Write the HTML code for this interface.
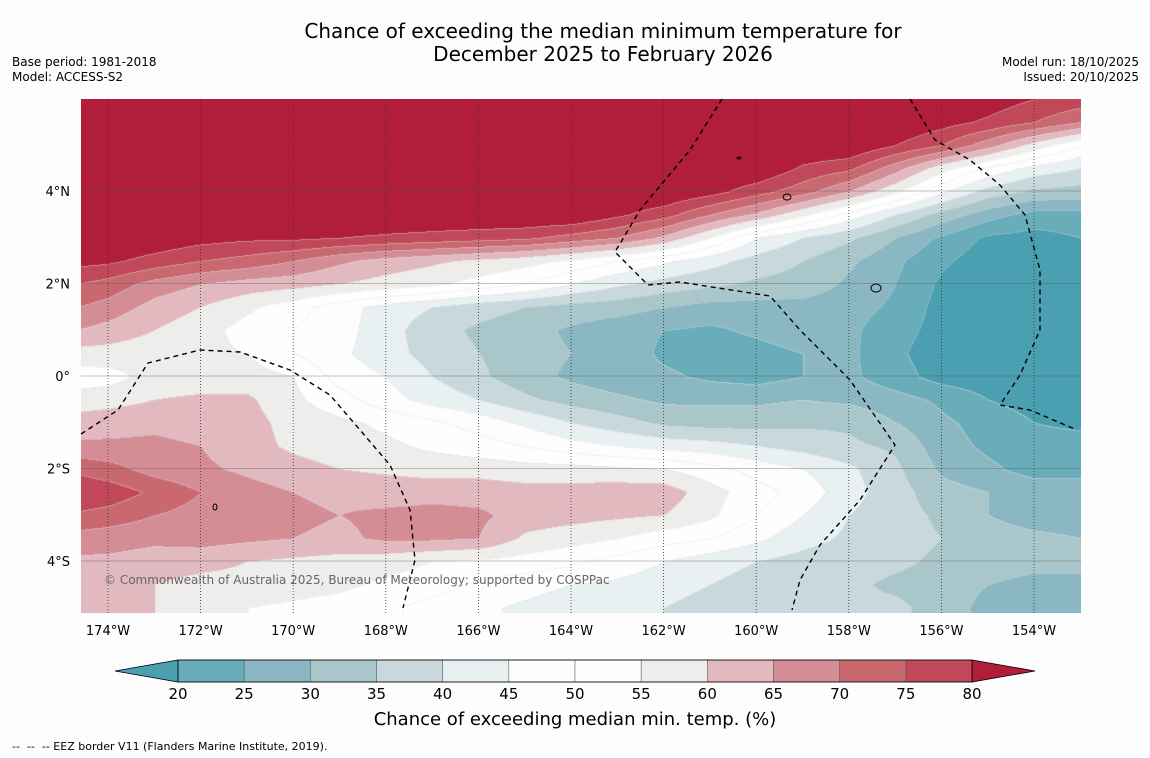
<!DOCTYPE html>
<html><head><meta charset="utf-8">
<style>
body{margin:0;background:#fdfdfd;width:1150px;height:758px;overflow:hidden;font-family:"DejaVu Sans","Liberation Sans",sans-serif;position:relative}
.t{position:absolute;white-space:nowrap;color:#000}
</style></head><body>
<div class="t" style="left:0;width:1206px;text-align:center;top:20px;font-size:20px;line-height:23px">Chance of exceeding the median minimum temperature for<br>December 2025 to February 2026</div>
<div class="t" style="left:12px;top:55px;font-size:12px;line-height:15px">Base period: 1981-2018<br>Model: ACCESS-S2</div>
<div class="t" style="right:11px;top:55px;font-size:12px;line-height:15px;text-align:right">Model run: 18/10/2025<br>Issued: 20/10/2025</div>
<canvas id="map" width="1000" height="514" style="position:absolute;left:81px;top:99px"></canvas>
<svg id="ov" width="1150" height="758" style="position:absolute;left:0;top:0"></svg>
<div class="t" style="left:104px;top:573px;font-size:12px;color:#666">© Commonwealth of Australia 2025, Bureau of Meteorology; supported by COSPPac</div>
<div class="t" style="left:0;width:1150px;text-align:center;top:709px;font-size:18px">Chance of exceeding median min. temp. (%)</div>
<div class="t" style="left:12px;top:740px;font-size:11px">--&nbsp; --&nbsp; -- EEZ border V11 (Flanders Marine Institute, 2019).</div>
<script>
const lons=[-175,-174,-173,-172,-171,-170,-169,-168,-167,-166,-165,-164,-163,-162,-161,-160,-159,-158,-157,-156,-155,-154,-153];
const lats=[6,5.5,5,4.5,4,3.5,3,2.5,2,1.5,1,0.5,0,-0.5,-1,-1.5,-2,-2.5,-3,-3.5,-4,-4.5,-5];
const grid=[
[85,85,85,85,85,85,85,85,85,85,85,85,85,85,85,85,85,85,85,85,83,80,78],
[85,85,85,85,85,85,85,85,85,85,85,85,85,85,85,85,85,85,85,82,79,75,70],
[85,85,85,85,85,85,85,85,85,85,85,85,85,85,85,85,85,85,80,75,67,58,50],
[85,85,85,85,85,85,85,85,85,85,85,85,85,85,85,85,79,76,67,57,49,43,40],
[85,85,85,85,85,85,85,85,85,85,85,85,85,85,82,77,72,65,56,46,38,34,33],
[85,85,85,85,85,85,85,85,85,85,85,85,81,77,70,64,56,48,40,33,27,23,23],
[85,85,84,82,81,81,80,79,78,77,76,73,70,64,55,45,40,36,30,24,19,18,20],
[82,81,78,75,73,70,66,63,61,59,57,54,50,46,42,38,35,31,26,21,17,16,16],
[76,73,68,65,63,62,60,58,56,53,50,45,41,38,36,34,33,29,25,19,16,16,16],
[71,68,63,60,56,52,47,43,40,37,35,33,32,30,28,28,28,27,24,18,17,16,16],
[66,63,60,57,53,50,47,42,37,34,32,29,27,25,24,26,28,26,22,18,17,16,16],
[58,58,57,56,55,50,46,42,38,35,32,30,28,24,22,23,25,26,21,17,16,16,16],
[52,53,57,57,57,55,48,45,40,36,32,29,27,26,24,23,25,26,22,18,17,17,17],
[57,58,60,61,61,56,52,47,43,40,36,33,31,29,29,29,30,29,27,24,20,18,18],
[62,63,64,63,62,58,56,54,51,48,44,40,37,34,33,33,34,34,30,26,23,20,19],
[66,66,66,65,62,59,57,56,54,52,50,47,45,43,42,40,38,36,34,27,24,22,22],
[75,72,68,66,64,62,60,59,58,58,57,57,56,55,52,48,45,41,36,29,26,23,23],
[79,78,74,70,67,65,64,63,63,63,62,62,63,63,57,52,48,42,37,32,30,28,28],
[75,73,70,68,67,66,65,66,67,66,63,62,61,60,56,50,45,40,37,34,30,28,28],
[68,67,66,67,66,65,64,66,66,65,59,57,55,52,50,46,42,39,37,35,32,31,30],
[64,64,63,62,60,59,58,57,55,54,53,51,48,45,42,40,38,37,36,34,33,32,32],
[62,61,60,58,58,57,56,54,52,49,47,45,44,42,40,38,37,36,34,33,30,28,28],
[64,63,60,56,55,54,53,51,48,46,44,42,41,40,38,37,36,36,36,33,28,28,28]];
const levels=[20,25,30,35,40,45,50,55,60,65,70,75,80];
const colors=['#4a9fb0','#68adb9','#8bb7c3','#a9c6ca','#c8d8dc','#e8f0f1','#fdfdfd','#fefefe','#eeedeb','#e1b9be','#d48c95','#c9686f','#c04858','#b01e3a'];
const xOf=l=>108+(l+174)*46.3, yOf=p=>376-p*46.25;
function bin(v){let i=0;while(i<levels.length&&v>=levels[i])i++;return i;}
function hex(c){return[parseInt(c.slice(1,3),16),parseInt(c.slice(3,5),16),parseInt(c.slice(5,7),16)];}
const rgb=colors.map(hex);
const cv=document.getElementById('map'),ctx=cv.getContext('2d'),W=1000,H=514;
const img=ctx.createImageData(W,H),bins=new Int8Array(W*H);
const lonStep=lons[1]-lons[0],latStep=lats[0]-lats[1];
for(let py=0;py<H;py++){const lat=(376-(py+99))/46.25;let fi=(lats[0]-lat)/latStep;fi=Math.max(0,Math.min(lats.length-1.001,fi));const i=Math.floor(fi),ty=fi-i;
for(let px=0;px<W;px++){const lon=(px+81-108)/46.3-174;let fj=(lon-lons[0])/lonStep;fj=Math.max(0,Math.min(lons.length-1.001,fj));const j=Math.floor(fj),tx=fj-j;
const v=(grid[i][j]*(1-tx)+grid[i][j+1]*tx)*(1-ty)+(grid[i+1][j]*(1-tx)+grid[i+1][j+1]*tx)*ty;bins[py*W+px]=bin(v);}}
for(let py=0;py<H;py++)for(let px=0;px<W;px++){const k=py*W+px,b=bins[k];let c=rgb[b];
const edge=(px>0&&bins[k-1]!==b)||(py>0&&bins[k-W]!==b);
const o=k*4;if(edge){img.data[o]=c[0]*0.6+90;img.data[o+1]=c[1]*0.6+90;img.data[o+2]=c[2]*0.6+90;}else{img.data[o]=c[0];img.data[o+1]=c[1];img.data[o+2]=c[2];}img.data[o+3]=255;}
ctx.putImageData(img,0,0);
const NS='http://www.w3.org/2000/svg',ov=document.getElementById('ov');
const FF='DejaVu Sans,Liberation Sans,sans-serif';
function mk(t,a){const e=document.createElementNS(NS,t);for(const k in a)e.setAttribute(k,a[k]);ov.appendChild(e);return e;}
const lonTicks=[-174,-172,-170,-168,-166,-164,-162,-160,-158,-156,-154];
const latTicks=[4,2,0,-2,-4];
lonTicks.forEach(l=>{const x=xOf(l);
const g=mk('line',{x1:x,x2:x,y1:99,y2:613,stroke:'#333','stroke-width':0.8,'stroke-dasharray':'1,2'});


const t=mk('text',{x:x,y:635,'text-anchor':'middle','font-size':13,'font-family':FF});t.textContent=Math.abs(l)+'°W';

});
latTicks.forEach(p=>{const y=yOf(p);
const g=mk('line',{x1:81,x2:1081,y1:y,y2:y,stroke:'#555','stroke-width':0.6,opacity:0.7});


const t=mk('text',{x:70,y:y+5,'text-anchor':'end','font-size':13,'font-family':FF});t.textContent=p===0?'0°':Math.abs(p)+'°'+(p>0?'N':'S');

});
const eez=[[[81,434],[118,410],[148,363],[200,350],[240,352],[290,370],[330,395],[360,430],[390,465],[410,510],[415,560],[403,608]],
[[722,99],[690,150],[640,210],[615,252],[648,285],[680,282],[770,296],[800,330],[850,380],[895,445],[860,500],[820,545],[800,580],[792,610]],
[[910,99],[935,140],[970,160],[1000,185],[1025,215],[1040,270],[1040,330],[1020,375],[1000,405],[1030,410],[1077,430]]];
eez.forEach(p=>{const e=mk('polyline',{points:p.map(q=>q.join(',')).join(' '),fill:'none',stroke:'#000','stroke-width':1.4,'stroke-dasharray':'5,4'});

});
[[787,197,4,3],[876,288,5,4],[215,507,2,3],[739,158,2,1]].forEach(a=>{const e=mk('ellipse',{cx:a[0],cy:a[1],rx:a[2],ry:a[3],fill:'none',stroke:'#000','stroke-width':1});

});
const cbL=178,cbR=972,cbT=660,cbB=682,bw=(cbR-cbL)/(levels.length-1);
const la=mk('polygon',{points:`115,671 ${cbL},${cbT} ${cbL},${cbB}`,fill:colors[0],stroke:'#000','stroke-width':0.8});

const ra=mk('polygon',{points:`1035,671 ${cbR},${cbT} ${cbR},${cbB}`,fill:colors[colors.length-1],stroke:'#000','stroke-width':0.8});

for(let i=0;i<levels.length-1;i++){const r=mk('rect',{x:cbL+i*bw,y:cbT,width:bw,height:cbB-cbT,fill:colors[i+1],stroke:'#555','stroke-width':0.5});

}
const fr=mk('rect',{x:cbL,y:cbT,width:cbR-cbL,height:cbB-cbT,fill:'none',stroke:'#000','stroke-width':0.8});

levels.forEach((v,i)=>{const t=mk('text',{x:cbL+i*bw,y:699,'text-anchor':'middle','font-size':15,'font-family':FF});t.textContent=v;

});
</script>
</body></html>
